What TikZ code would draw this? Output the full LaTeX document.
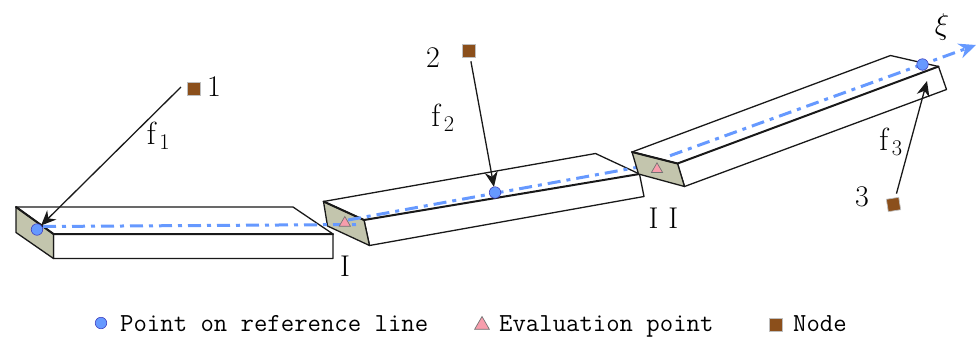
\documentclass[tikz,border=0pt]{standalone}
\usepackage{fix-cm}
\usepackage{amsmath,amssymb}
\usetikzlibrary{arrows.meta,shapes.geometric}
\definecolor{refblue}{HTML}{6699FF}
\definecolor{facegray}{HTML}{C3C5AD}
\definecolor{nodebrown}{HTML}{8B4F1B}
\definecolor{evalpink}{HTML}{F79DAC}

\begin{document}
\begin{tikzpicture}[x=1pt,y=-1pt,
	every node/.style={font=\fontsize{30}{32}\selectfont},
	beam/.style={draw=black!90,line width=1.3pt,fill=white,line join=round},
	face/.style={draw=black!90,line width=1.3pt,fill=facegray,line join=round},
	edge/.style={draw=black!90,line width=2pt,line cap=round},
	refline/.style={draw=refblue,line width=3pt,dash pattern=on 13pt off 6pt on 4pt off 6pt},
	force/.style={draw=black!90,line width=1.3pt,-{Stealth[length=15pt,width=13pt]}},
	refpoint/.style={circle,draw=blue!50!gray,line width=.6pt,fill=refblue,minimum size=11.5pt,inner sep=0pt,outer sep=0pt},
	evalpoint/.style={regular polygon,regular polygon sides=3,draw=black!55,line width=.7pt,fill=evalpink,minimum size=13pt,inner sep=0pt},
	nodepoint/.style={rectangle,draw=black!25,line width=.7pt,fill=nodebrown,minimum size=12.5pt,inner sep=0pt,outer sep=4pt},
	legendtext/.style={anchor=base west,inner sep=0pt,font=\ttfamily\fontsize{26}{28}\selectfont},
	forcelabel/.style={font=\fontsize{32}{34}\selectfont}]
	\useasboundingbox (0,0) rectangle (976,338);
	% beam I
	\filldraw[beam] (53.5,234) -- (16,207) -- (293,207) -- (333,234) -- (333,258.5) -- (53.5,258.5) -- cycle;
	\filldraw[face] (16,207) -- (53.5,234) -- (53.5,258.5) -- (16,232.5) -- cycle;
	\draw[edge] (16,207) -- (53.5,234) -- (333,234);
	% beam II
	\filldraw[beam] (364,220) -- (323.5,201.5) -- (595.5,153.5) -- (639.5,174) -- (644,196.5) -- (369.5,245.5) -- cycle;
	\filldraw[face] (323.5,201.5) -- (364,220) -- (369.5,245.5) -- (327.5,226) -- cycle;
	\draw[edge] (323.5,201.5) -- (364,220) -- (639.5,174);
	% reference line
	\coordinate (lineastart) at (43,226.5);
	\coordinate (lineaend) at (356,224.5);
	\coordinate (linebstart) at (348,220);
	\coordinate (linebend) at (650,165);
	\coordinate (linecstart) at (670,155.7);
	\coordinate (linecend) at (976,45);
	\draw[refline] (lineastart) -- (lineaend);
	\draw[refline] (linebstart) -- (linebend);
	% beam III
	\filldraw[beam] (677.5,163.5) -- (632,152) -- (890.5,55.5) -- (938.5,66.5) -- (946.5,89.5) -- (684.5,186.5) -- cycle;
	\filldraw[face] (632,152) -- (677.5,163.5) -- (684.5,186.5) -- (638.5,174) -- cycle;
	\draw[edge] (632,152) -- (677.5,163.5) -- (938.5,66.5);
	\draw[refline,-{Stealth[length=17pt,width=15pt]}] (linecstart) -- (linecend);
	% points
	\node[refpoint] (pta) at (37,229.5) {};
	\node[refpoint] (ptb) at (495,192.5) {};
	\node[refpoint] (ptc) at (922.5,64.5) {};
	\node[evalpoint] (eva) at (344.8,223) {};
	\node[evalpoint] (evb) at (657,169.3) {};
	\node[nodepoint] (nda) at (194,89) {};
	\node[nodepoint] (ndb) at (469,51) {};
	\node[nodepoint,rotate=9] (ndc) at (893.5,204.5) {};
	% forces
	\coordinate (forceastart) at (181,87);
	\coordinate (forcectip) at (927,81);
	\draw[force] (forceastart) -- (pta);
	\draw[force] (ndb) -- (ptb);
	\draw[force] (ndc) -- (forcectip);
	% labels
	\node (laba) at (214,87) {1};
	\node (labb) at (433,58) {2};
	\node (labc) at (862,197) {3};
	\node[forcelabel] (laf) at (158.5,136) {$\mathrm{f}_{\,1}$};
	\node[forcelabel] (lbf) at (443,118) {$\mathrm{f}_{\,2}$};
	\node[forcelabel] (lcf) at (891,142) {$\mathrm{f}_{\,3}$};
	\node (labxi) at (942,27) {$\xi$};
	\node (labI) at (345,266) {I};
	\node (labII) at (663.5,218) {I\,\,I};
	% legend
	\node[refpoint] (keypt) at (101,323) {};
	\node[legendtext] (txtpt) at (120,331.5) {Point on reference line};
	\node[evalpoint,minimum size=17pt] (keyev) at (482,325) {};
	\node[legendtext] (txtev) at (499,331.5) {Evaluation point};
	\node[nodepoint] (keynd) at (776,325) {};
	\node[legendtext] (txtnd) at (793,331.5) {Node};
\end{tikzpicture}
\end{document}
